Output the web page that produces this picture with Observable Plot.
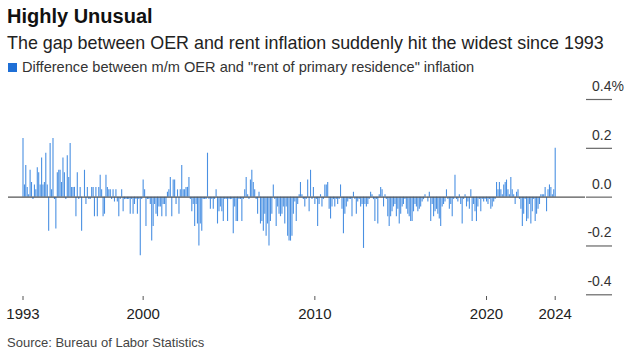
<!DOCTYPE html>
<html><head><meta charset="utf-8">
<script src="https://cdn.jsdelivr.net/npm/d3@7"></script>
<script src="https://cdn.jsdelivr.net/npm/@observablehq/plot@0.6"></script>
<style>
body{margin:0;background:#fff;font-family:"Liberation Sans",Arial,sans-serif;}
#wrap{position:relative;width:629px;height:358px;overflow:hidden;background:#fff;}
.t{position:absolute;left:7px;white-space:nowrap;}
#title{top:5px;font-size:20px;font-weight:bold;color:#111;}
#sub{top:33px;font-size:17.9px;color:#222;}
#leg{top:59px;left:8px;font-size:14.6px;color:#333;}
#leg .sw{display:inline-block;width:9px;height:9px;background:#1f6fd6;margin-right:5px;vertical-align:0px;}
#src{top:335px;font-size:13px;color:#444;}
#chart{position:absolute;left:0;top:70px;}
</style>
</head><body>
<div id="wrap">
  <div class="t" id="title">Highly Unusual</div>
  <div class="t" id="sub">The gap between OER and rent inflation suddenly hit the widest since 1993</div>
  <div class="t" id="leg"><span class="sw"></span>Difference between m/m OER and "rent of primary residence" inflation</div>
  <div id="chart"></div>
  <div class="t" id="src">Source: Bureau of Labor Statistics</div>
</div>
<script>
// Monthly difference (percentage points), Jan 1993 onward
const gap1990s = [
  0.24, 0.05, 0.13, 0.04, 0.01, 0.11, 0.06, -0.01, 0.05, 0.03, 0.12, 0.10,
  0.05, 0.16, 0.05, 0.06, 0.18, 0.05, -0.14, 0.22, 0.03, 0.24, -0.01, -0.13,
  0.10, 0.11, 0.11, 0.06, 0.16, 0.10, -0.01, 0.17, 0.08, 0.22, 0.04, 0.04,
  0.04, -0.08, 0.10, -0.01, 0.04, -0.14, 0.00, 0.11, -0.03, 0.04, -0.01, -0.01,
  0.04, 0.04, -0.08, 0.04, -0.08, 0.04, 0.09, 0.03, -0.08, -0.07, 0.09, 0.04,
  0.03, 0.03, -0.01, 0.03, -0.02, 0.03, -0.02, -0.08, -0.01, 0.03, -0.06, -0.01,
  -0.01, -0.01, -0.01, -0.07, -0.01, -0.07, -0.03, -0.01, -0.07, -0.01, -0.24, -0.01
];
const gap2000s = [
  0.07, 0.03, -0.12, -0.01, -0.01, -0.03, -0.18, -0.12, -0.03, -0.07, -0.08, -0.04,
  -0.04, -0.08, -0.03, -0.03, -0.08, 0.02, 0.03, 0.08, -0.08, 0.07, 0.07, -0.03,
  0.03, -0.07, 0.03, 0.13, 0.03, 0.03, 0.04, 0.04, 0.08, -0.01, -0.06, -0.03,
  -0.12, -0.03, -0.11, -0.20, -0.11, -0.14, -0.01, -0.01, -0.01, 0.18, -0.01, -0.05,
  -0.01, -0.05, -0.01, 0.03, -0.11, -0.06, -0.04, -0.06, -0.10, -0.01, -0.01, -0.10,
  -0.01, -0.01, -0.01, -0.15, -0.04, -0.10, -0.10, -0.01, -0.01, -0.10, -0.01, 0.03,
  0.08, 0.01, -0.01, 0.07, 0.11, 0.06, 0.03, -0.01, -0.07, 0.02, -0.11, -0.10,
  -0.14, -0.07, -0.16, -0.11, -0.20, -0.10, -0.07, 0.05, -0.01, -0.12, -0.04, -0.07,
  -0.08, -0.07, -0.04, -0.11, -0.04, -0.16, -0.18, -0.18, -0.16, -0.07, -0.02, -0.10,
  -0.03, 0.01, 0.06, 0.01, -0.01, -0.04, -0.01, 0.07, -0.06, 0.11, -0.01, 0.04
];
const gap2010s = [
  -0.03, -0.01, -0.12, -0.03, 0.01, -0.04, -0.01, 0.05, 0.05, 0.06, -0.05, -0.09,
  -0.04, -0.01, -0.04, -0.01, -0.03, -0.01, 0.05, -0.05, -0.15, -0.07, -0.04, -0.02,
  -0.01, -0.01, -0.08, 0.02, -0.01, -0.07, -0.02, -0.01, -0.04, -0.03, -0.21, -0.03,
  -0.04, -0.03, -0.01, 0.02, 0.01, -0.01, -0.10, -0.01, -0.11, 0.01, 0.04, 0.03,
  -0.04, 0.01, -0.01, -0.08, -0.12, -0.08, -0.06, -0.04, -0.03, -0.08, -0.05, -0.11,
  -0.07, -0.04, -0.03, -0.01, -0.05, -0.07, -0.08, -0.10, -0.10, -0.06, -0.03, -0.04,
  -0.06, -0.05, -0.04, -0.02, -0.01, 0.01, 0.00, -0.02, 0.02, -0.10, -0.03, -0.08,
  -0.06, -0.05, -0.07, -0.09, -0.12, -0.04, -0.03, -0.02, 0.03, -0.01, -0.05, -0.03,
  -0.08, -0.01, 0.09, -0.01, -0.02, 0.01, -0.03, -0.11, -0.01, 0.01, -0.04, -0.02,
  -0.05, 0.03, -0.10, -0.03, -0.06, -0.10, -0.04, -0.01, -0.06, -0.01, -0.02, -0.01
];
const gap2020s = [
  -0.02, -0.03, -0.01, -0.05, -0.04, -0.02, -0.01, 0.06, 0.03, 0.06, 0.03, 0.01,
  0.05, 0.06, 0.07, 0.03, 0.01, 0.08, 0.03, 0.01, -0.03, 0.02, 0.03, -0.01,
  -0.05, -0.12, -0.07, -0.01, -0.10, -0.09, -0.03, -0.11, -0.06, -0.01, -0.10, -0.07,
  -0.05, -0.03, 0.01, 0.01, 0.01, 0.04, -0.06, 0.03, 0.05, 0.04, 0.01, 0.03,
  0.20
];
const startYear = 1993;
const xTickYears = [1993, 2000, 2010, 2020, 2024];
const yTicks = [-0.4, -0.2, 0, 0.2, 0.4];

const values = [...gap1990s, ...gap2000s, ...gap2010s, ...gap2020s];
const data = values.map((v, i) => ({date: new Date(Date.UTC(startYear, i, 1)), value: v}));
const xTickDates = xTickYears.map(y => new Date(Date.UTC(y, 0, 1)));
const fmtY = d => d.toFixed(1);

const plot = Plot.plot({
  width: 629, height: 260,
  marginLeft: 8, marginRight: 44, marginTop: 29, marginBottom: 34,
  insetLeft: 14.5, insetRight: 30.3, insetBottom: 1.7,
  x: {type: "utc", domain: [xTickDates[0], xTickDates[xTickDates.length - 1]]},
  y: {domain: [-0.4, 0.4]},
  style: {fontFamily: "Liberation Sans, Arial, sans-serif", fontSize: "14px", color: "#333", background: "transparent", overflow: "visible"},
  marks: [
    Plot.ruleX(data, {x: "date", y1: 0, y2: "value", stroke: "#4a90e2", strokeWidth: 1.1}),
    Plot.ruleY([0], {stroke: "#555", strokeWidth: 1.3}),
    Plot.axisX({ticks: xTickDates, tickFormat: d3.utcFormat("%Y"), tickSize: 4, tickPadding: 8, stroke: "#555", fill: "#222", fontSize: 15, label: null}),
    Plot.axisY({anchor: "right", ticks: yTicks, tickSize: 26, tickFormat: () => "", stroke: "#666", strokeWidth: 1.2, label: null}),
    Plot.text(yTicks, {y: d => d, text: fmtY, frameAnchor: "right", dx: 26, dy: -8.5, textAnchor: "end", lineAnchor: "bottom", fontSize: 14, fill: "#333"}),
    Plot.text([0.4], {y: d => d, text: () => "%", frameAnchor: "right", dx: 26, dy: -8.5, textAnchor: "start", lineAnchor: "bottom", fontSize: 14, fill: "#333"})
  ]
});
document.getElementById("chart").appendChild(plot);
</script>
</body></html>
